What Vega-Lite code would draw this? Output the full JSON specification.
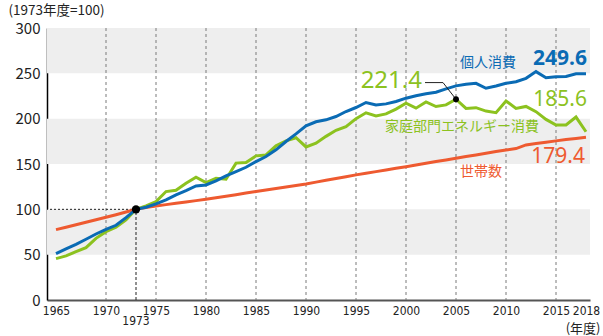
{
  "$schema": "https://vega.github.io/schema/vega-lite/v6.json",
  "width": 543,
  "height": 272,
  "autosize": {"type": "none"},
  "padding": {"left": 47, "top": 28, "right": 13, "bottom": 36},
  "background": "white",
  "config": {"view": {"stroke": null}, "font": "Noto Sans CJK JP"},
  "datasets": {
    "bands": [{"lo": 50, "hi": 100}, {"lo": 150, "hi": 200}, {"lo": 250, "hi": 300}],
    "grid": [{"year": 1970}, {"year": 1975}, {"year": 1980}, {"year": 1985}, {"year": 1990}, {"year": 1995}, {"year": 2000}, {"year": 2005}, {"year": 2010}, {"year": 2015}],
    "series": [
      {"year":1965,"kojin":51.1,"energy":45.6,"setai":77.6},
      {"year":1966,"kojin":56.3,"energy":48.6,"setai":80.2},
      {"year":1967,"kojin":61.4,"energy":53.3,"setai":83.0},
      {"year":1968,"kojin":67.0,"energy":57.8,"setai":85.8},
      {"year":1969,"kojin":72.8,"energy":68.0,"setai":88.5},
      {"year":1970,"kojin":78.0,"energy":75.4,"setai":91.2},
      {"year":1971,"kojin":82.4,"energy":80.2,"setai":94.0},
      {"year":1972,"kojin":90.9,"energy":88.3,"setai":97.0},
      {"year":1973,"kojin":100.0,"energy":100.0,"setai":100.0},
      {"year":1974,"kojin":102.3,"energy":103.8,"setai":101.9},
      {"year":1975,"kojin":106.0,"energy":108.5,"setai":103.7},
      {"year":1976,"kojin":110.4,"energy":119.6,"setai":105.2},
      {"year":1977,"kojin":115.9,"energy":121.0,"setai":106.7},
      {"year":1978,"kojin":120.7,"energy":128.8,"setai":108.2},
      {"year":1979,"kojin":125.8,"energy":135.4,"setai":109.6},
      {"year":1980,"kojin":126.9,"energy":129.5,"setai":111.1},
      {"year":1981,"kojin":131.3,"energy":134.3,"setai":112.8},
      {"year":1982,"kojin":136.9,"energy":133.2,"setai":114.5},
      {"year":1983,"kojin":141.6,"energy":151.0,"setai":116.2},
      {"year":1984,"kojin":146.4,"energy":151.6,"setai":117.9},
      {"year":1985,"kojin":152.7,"energy":159.0,"setai":119.6},
      {"year":1986,"kojin":158.2,"energy":160.0,"setai":121.3},
      {"year":1987,"kojin":165.6,"energy":170.0,"setai":123.0},
      {"year":1988,"kojin":174.8,"energy":175.5,"setai":124.7},
      {"year":1989,"kojin":183.2,"energy":179.0,"setai":126.3},
      {"year":1990,"kojin":192.0,"energy":168.8,"setai":128.0},
      {"year":1991,"kojin":196.6,"energy":172.9,"setai":130.0},
      {"year":1992,"kojin":198.7,"energy":180.5,"setai":132.0},
      {"year":1993,"kojin":202.4,"energy":187.2,"setai":134.0},
      {"year":1994,"kojin":207.9,"energy":191.3,"setai":136.0},
      {"year":1995,"kojin":212.3,"energy":200.0,"setai":138.0},
      {"year":1996,"kojin":217.8,"energy":206.5,"setai":139.8},
      {"year":1997,"kojin":215.2,"energy":203.1,"setai":141.6},
      {"year":1998,"kojin":216.3,"energy":205.3,"setai":143.4},
      {"year":1999,"kojin":218.9,"energy":210.5,"setai":145.2},
      {"year":2000,"kojin":222.6,"energy":217.1,"setai":147.0},
      {"year":2001,"kojin":225.2,"energy":211.6,"setai":148.9},
      {"year":2002,"kojin":227.4,"energy":218.5,"setai":150.8},
      {"year":2003,"kojin":229.2,"energy":213.4,"setai":152.7},
      {"year":2004,"kojin":232.9,"energy":215.2,"setai":154.5},
      {"year":2005,"kojin":236.2,"energy":221.4,"setai":156.4},
      {"year":2006,"kojin":237.9,"energy":211.3,"setai":158.2},
      {"year":2007,"kojin":239.0,"energy":212.1,"setai":160.0},
      {"year":2008,"kojin":233.5,"energy":208.4,"setai":161.9},
      {"year":2009,"kojin":236.0,"energy":206.6,"setai":163.7},
      {"year":2010,"kojin":239.0,"energy":219.5,"setai":165.5},
      {"year":2011,"kojin":240.8,"energy":211.3,"setai":167.0},
      {"year":2012,"kojin":244.5,"energy":213.5,"setai":171.0},
      {"year":2013,"kojin":251.9,"energy":207.7,"setai":172.5},
      {"year":2014,"kojin":245.2,"energy":199.2,"setai":174.0},
      {"year":2015,"kojin":246.3,"energy":193.0,"setai":175.5},
      {"year":2016,"kojin":246.5,"energy":193.0,"setai":177.0},
      {"year":2017,"kojin":249.6,"energy":201.8,"setai":178.2},
      {"year":2018,"kojin":249.6,"energy":185.6,"setai":179.4}
    ],
    "leader": [{"year": 2001.9, "value": 239.8}, {"year": 2003.7, "value": 239.8}, {"year": 2005, "value": 221.4}]
  },
  "layer": [
    {
      "data": {"name": "bands"},
      "mark": {"type": "rect", "color": "#eeeeee"},
      "encoding": {
        "y": {"field": "lo", "type": "quantitative", "scale": {"domain": [0, 300], "nice": false}},
        "y2": {"field": "hi"}
      }
    },
    {
      "data": {"name": "grid"},
      "mark": {"type": "rule", "color": "#7a7a7a", "strokeWidth": 1, "strokeDash": [3, 3]},
      "encoding": {
        "x": {"field": "year", "type": "quantitative", "scale": {"domain": [1964.1, 2018.4], "nice": false, "zero": false}}
      }
    },
    {
      "data": {"values": [{"year": 1973, "base": 0, "value": 100}]},
      "mark": {"type": "rule", "color": "#222222", "strokeWidth": 1, "strokeDash": [3, 2]},
      "encoding": {
        "x": {"field": "year", "type": "quantitative"},
        "y": {"field": "base", "type": "quantitative"},
        "y2": {"field": "value"}
      }
    },
    {
      "data": {"values": [{"year": 1973, "value": 100}]},
      "mark": {"type": "rule", "color": "#222222", "strokeWidth": 1, "strokeDash": [2, 2]},
      "encoding": {
        "x": {"field": "year", "type": "quantitative"},
        "x2": {"value": 0},
        "y": {"field": "value", "type": "quantitative"}
      }
    },
    {
      "data": {"name": "series"},
      "mark": {"type": "line", "color": "#ee5a30", "strokeWidth": 3},
      "encoding": {
        "x": {"field": "year", "type": "quantitative"},
        "y": {"field": "setai", "type": "quantitative"}
      }
    },
    {
      "data": {"name": "series"},
      "mark": {"type": "line", "color": "#8cc21f", "strokeWidth": 3},
      "encoding": {
        "x": {"field": "year", "type": "quantitative"},
        "y": {"field": "energy", "type": "quantitative"}
      }
    },
    {
      "data": {"name": "series"},
      "mark": {"type": "line", "color": "#0a6bb4", "strokeWidth": 3},
      "encoding": {
        "x": {
          "field": "year", "type": "quantitative",
          "axis": {
            "values": [1965, 1970, 1975, 1980, 1985, 1990, 1995, 2000, 2005, 2010, 2015, 2018],
            "format": "d", "ticks": false, "grid": false,
            "domainColor": "#555555", "domainWidth": 2,
            "labelFont": "DejaVu Sans Condensed, Liberation Sans, sans-serif", "labelFontSize": 12, "labelColor": "#222222",
            "labelPadding": 5,
            "labelOverlap": false, "labelFlush": false, "labelBound": false,
            "title": "(年度)", "titleFont": "Noto Sans CJK JP", "titleFontSize": 13, "titleFontWeight": "normal",
            "titleColor": "#222222", "titleAlign": "right", "titleBaseline": "middle", "titleX": 553, "titleY": 28
          }
        },
        "y": {
          "field": "kojin", "type": "quantitative",
          "axis": {
            "values": [0, 50, 100, 150, 200, 250, 300],
            "ticks": false, "grid": false,
            "domainColor": "#000000", "domainWidth": 1.5,
            "labelFont": "Noto Sans CJK JP", "labelFontSize": 15, "labelColor": "#222222", "labelPadding": 7,
            "title": "(1973年度=100)", "titleFont": "Noto Sans CJK JP", "titleFontSize": 13.5, "titleFontWeight": "normal",
            "titleColor": "#222222", "titleAngle": 0, "titleAlign": "left", "titleBaseline": "middle", "titleX": -39, "titleY": -18
          }
        }
      }
    },
    {
      "data": {"name": "leader"},
      "mark": {"type": "line", "color": "#222222", "strokeWidth": 1},
      "encoding": {
        "x": {"field": "year", "type": "quantitative"},
        "y": {"field": "value", "type": "quantitative"}
      }
    },
    {
      "data": {"values": [{"year": 1973, "value": 100}]},
      "mark": {"type": "point", "filled": true, "color": "#000000", "size": 70, "opacity": 1},
      "encoding": {
        "x": {"field": "year", "type": "quantitative"},
        "y": {"field": "value", "type": "quantitative"}
      }
    },
    {
      "data": {"values": [{"year": 2005, "value": 221.4}]},
      "mark": {"type": "point", "filled": true, "color": "#000000", "size": 35, "opacity": 1},
      "encoding": {
        "x": {"field": "year", "type": "quantitative"},
        "y": {"field": "value", "type": "quantitative"}
      }
    },
    {
      "data": {"values": [{"year": 1973, "value": 0, "label": "1973"}]},
      "mark": {"type": "text", "color": "#222222", "fontSize": 12, "align": "center", "baseline": "top", "font": "DejaVu Sans Condensed, Liberation Sans, sans-serif", "dy": 16},
      "encoding": {
        "x": {"field": "year", "type": "quantitative"},
        "y": {"field": "value", "type": "quantitative"},
        "text": {"field": "label"}
      }
    },
    {
      "data": {"values": [{"year": 2005.4, "value": 261.3, "label": "個人消費"}]},
      "mark": {"type": "text", "color": "#0a6bb4", "fontSize": 14, "align": "left", "baseline": "middle", "font": "Noto Sans CJK JP"},
      "encoding": {
        "x": {"field": "year", "type": "quantitative"},
        "y": {"field": "value", "type": "quantitative"},
        "text": {"field": "label"}
      }
    },
    {
      "data": {"values": [{"year": 2018.1, "value": 265.7, "label": "249.6"}]},
      "mark": {"type": "text", "color": "#0a6bb4", "fontSize": 21, "fontWeight": "bold", "align": "right", "baseline": "middle", "font": "Noto Sans"},
      "encoding": {
        "x": {"field": "year", "type": "quantitative"},
        "y": {"field": "value", "type": "quantitative"},
        "text": {"field": "label"}
      }
    },
    {
      "data": {"values": [{"year": 2001.6, "value": 241, "label": "221.4"}]},
      "mark": {"type": "text", "color": "#8cc21f", "fontSize": 24, "align": "right", "baseline": "middle", "font": "Noto Sans"},
      "encoding": {
        "x": {"field": "year", "type": "quantitative"},
        "y": {"field": "value", "type": "quantitative"},
        "text": {"field": "label"}
      }
    },
    {
      "data": {"values": [{"year": 2018.1, "value": 220.8, "label": "185.6"}]},
      "mark": {"type": "text", "color": "#8cc21f", "fontSize": 21, "align": "right", "baseline": "middle", "font": "Noto Sans"},
      "encoding": {
        "x": {"field": "year", "type": "quantitative"},
        "y": {"field": "value", "type": "quantitative"},
        "text": {"field": "label"}
      }
    },
    {
      "data": {"values": [{"year": 1997.9, "value": 191.3, "label": "家庭部門エネルギー消費"}]},
      "mark": {"type": "text", "color": "#8cc21f", "fontSize": 14, "align": "left", "baseline": "middle", "font": "Noto Sans CJK JP"},
      "encoding": {
        "x": {"field": "year", "type": "quantitative"},
        "y": {"field": "value", "type": "quantitative"},
        "text": {"field": "label"}
      }
    },
    {
      "data": {"values": [{"year": 2005.4, "value": 141.6, "label": "世帯数"}]},
      "mark": {"type": "text", "color": "#ee5a30", "fontSize": 14, "align": "left", "baseline": "middle", "font": "Noto Sans CJK JP"},
      "encoding": {
        "x": {"field": "year", "type": "quantitative"},
        "y": {"field": "value", "type": "quantitative"},
        "text": {"field": "label"}
      }
    },
    {
      "data": {"values": [{"year": 2017.9, "value": 158.2, "label": "179.4"}]},
      "mark": {"type": "text", "color": "#ee5a30", "fontSize": 21, "align": "right", "baseline": "middle", "font": "Noto Sans"},
      "encoding": {
        "x": {"field": "year", "type": "quantitative"},
        "y": {"field": "value", "type": "quantitative"},
        "text": {"field": "label"}
      }
    }
  ]
}
